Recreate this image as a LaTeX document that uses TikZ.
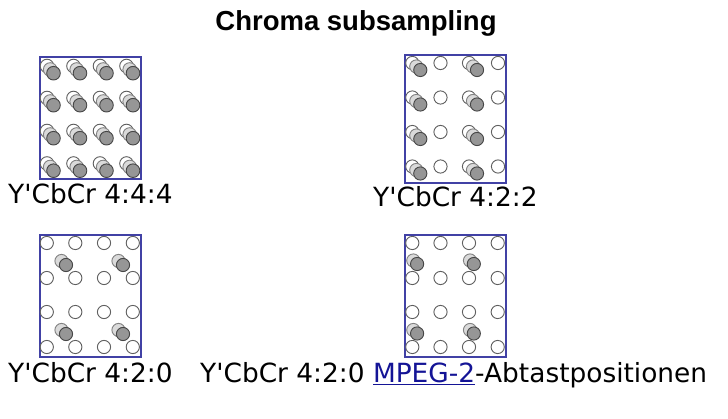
\documentclass[tikz,border=0pt]{standalone}
\usepackage{fontspec}
\newfontfamily\labelfont[Ligatures=TeXOff]{DejaVu Sans}
\newfontfamily\titlefont{Liberation Sans}
\usetikzlibrary{positioning}
\definecolor{framecol}{RGB}{65,65,165}
\definecolor{linkcol}{RGB}{20,20,150}
\definecolor{lumaline}{RGB}{95,95,95}
\definecolor{cbfill}{RGB}{218,218,218}
\definecolor{cbline}{RGB}{130,130,130}
\definecolor{crfill}{RGB}{150,150,150}
\definecolor{crline}{RGB}{70,70,70}

\begin{document}
\begin{tikzpicture}[x=1pt, y=-1pt,
    frame/.style={draw=framecol, line width=1.1pt},
    luma/.style={draw=lumaline, fill=white, line width=0.9pt},
    cb/.style={draw=cbline, fill=cbfill, line width=0.9pt},
    cr/.style={draw=crline, fill=crfill, line width=0.9pt},
    caption/.style={font=\labelfont\fontsize{26.4}{30}\selectfont,
                    inner sep=0pt, anchor=base west}
]
\useasboundingbox (0,0) rectangle (728,419);

% --- Title ---
\node[font=\titlefont\bfseries\fontsize{27.5}{32}\selectfont, inner sep=0pt,
      anchor=base] (title) at (356,30.5) {Chroma subsampling};

% --- 4:4:4 ---
\draw[frame] (40,57) rectangle (141,179);
\foreach \x in {47,73.5,100,126.5}
  \foreach \y in {66,98,131,163.5} {
    \draw[luma] (\x,\y) circle[radius=6.8];
    \draw[cb] (\x+3.2,\y+3.5) circle[radius=6.8];
    \draw[cr] (\x+6.5,\y+7.2) circle[radius=6.8];
  }

% --- 4:2:2 ---
\draw[frame] (405,55) rectangle (506,183);
\foreach \y in {63,97.5,132,166.5} {
  \foreach \x in {412.3,440.5,469,498}
    \draw[luma] (\x,\y) circle[radius=6.6];
  \foreach \x in {412.3,469} {
    \draw[cb] (\x+4,\y+3.5) circle[radius=6.6];
    \draw[cr] (\x+8,\y+7) circle[radius=6.6];
  }
}

% --- 4:2:0 ---
\draw[frame] (40,235) rectangle (141,357);
\foreach \x in {46.8,75.3,104,132.8}
  \foreach \y in {243,278,312,347}
    \draw[luma] (\x,\y) circle[radius=6.6];
\foreach \x in {61.5,118.5}
  \foreach \y in {261,330} {
    \draw[cb] (\x,\y) circle[radius=6.6];
    \draw[cr] (\x+4.5,\y+4) circle[radius=6.6];
  }

% --- 4:2:0 MPEG-2 ---
\draw[frame] (405,235) rectangle (506,357);
\foreach \x in {412.3,440.5,469,497.7}
  \foreach \y in {243,278,312,347}
    \draw[luma] (\x,\y) circle[radius=6.6];
\foreach \x in {413.3,470}
  \foreach \y in {260.5,330} {
    \draw[cb] (\x,\y) circle[radius=6.6];
    \draw[cr] (\x+3.8,\y+3.5) circle[radius=6.6];
  }

% --- Captions ---
\node[caption] (lblFull) at (8,204) {Y'CbCr 4:4:4};
\node[caption] (lblHoriz) at (373,207) {Y'CbCr 4:2:2};
\node[caption] (lblQuarter) at (8,382) {Y'CbCr 4:2:0};
\node[caption] (lblMpeg) at (200,382)
    {Y'CbCr 4:2:0 {\color{linkcol}\underline{MPEG-2}}-Abtastpositionen};

\end{tikzpicture}
\end{document}
